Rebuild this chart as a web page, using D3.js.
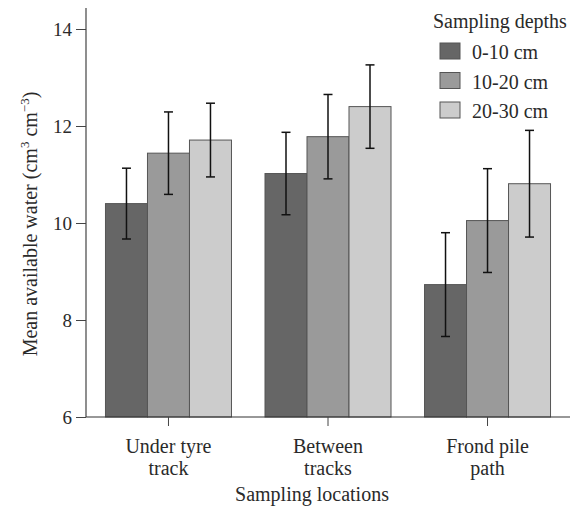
<!DOCTYPE html>
<html><head><meta charset="utf-8">
<script src="https://cdn.jsdelivr.net/npm/d3@7"></script>
<style>body{margin:0;background:#fff}text{font-family:"Liberation Serif","Times New Roman",serif;fill:#2a2a2a}</style>
</head><body>
<svg id="c" width="579" height="512"></svg>
<script>
const locations = [["Under tyre","track"],["Between","tracks"],["Frond pile","path"]];
const depths = ["0-10 cm","10-20 cm","20-30 cm"];
const means = [
  [10.40, 11.44, 11.71],
  [11.02, 11.78, 12.40],
  [8.73, 10.05, 10.81]
];
const errs = [
  [0.73, 0.85, 0.76],
  [0.85, 0.87, 0.86],
  [1.07, 1.07, 1.10]
];
const yTicks = [6, 8, 10, 12, 14];
const colors = ["#666666", "#9a9a9a", "#cccccc"];

const svg = d3.select("#c");
const x0 = 86, x1 = 570, yTop = 8, yBot = 417;
const y = d3.scaleLinear().domain([6, 14]).range([yBot, 29]);
const xc = d3.scalePoint().domain(d3.range(locations.length)).range([x0, x1]).padding(0.517);
const xs = d3.scaleBand().domain(d3.range(depths.length)).range([-63, 63]).padding(0);

const g = svg.append("g");
locations.forEach((loc, i) => {
  depths.forEach((d, j) => {
    const bx = xc(i) + xs(j);
    g.append("rect").attr("x", bx).attr("y", y(means[i][j]))
      .attr("width", xs.bandwidth()).attr("height", yBot - y(means[i][j]))
      .attr("fill", colors[j]).attr("stroke", "#555").attr("stroke-width", 1);
  });
});
locations.forEach((loc, i) => {
  depths.forEach((d, j) => {
    const cx = xc(i) + xs(j) + xs.bandwidth() / 2;
    const hi = y(means[i][j] + errs[i][j]), lo = y(means[i][j] - errs[i][j]);
    g.append("line").attr("x1", cx).attr("x2", cx).attr("y1", hi).attr("y2", lo).attr("stroke", "#111").attr("stroke-width", 1.5);
    [hi, lo].forEach(v => g.append("line").attr("x1", cx - 4.5).attr("x2", cx + 4.5).attr("y1", v).attr("y2", v).attr("stroke", "#111").attr("stroke-width", 1.5));
  });
});

const ya = svg.append("g").attr("transform", `translate(${x0},0)`)
  .call(d3.axisLeft(y).tickValues(yTicks).tickSize(10).tickPadding(4).tickSizeOuter(0));
ya.select(".domain").remove();
ya.append("line").attr("x1", 0).attr("x2", 0).attr("y1", yTop).attr("y2", yBot).attr("stroke", "#444").attr("stroke-width", 1.2);
ya.selectAll(".tick line").attr("stroke", "#444");
ya.selectAll(".tick text").attr("font-size", 19).attr("font-family", "Liberation Serif").attr("fill", "#2a2a2a");

const xa = svg.append("g").attr("transform", `translate(0,${yBot})`);
xa.append("line").attr("x1", x0).attr("x2", x1).attr("y1", 0).attr("y2", 0).attr("stroke", "#333").attr("stroke-width", 1.2);
locations.forEach((loc, i) => {
  xa.append("line").attr("x1", xc(i)).attr("x2", xc(i)).attr("y1", 0).attr("y2", 9).attr("stroke", "#444");
  const t = xa.append("text").attr("text-anchor", "middle").attr("font-size", 20);
  loc.forEach((l, k) => t.append("tspan").attr("x", xc(i)).attr("y", 36 + k * 22).text(l));
});
svg.append("text").attr("x", 312).attr("y", 501).attr("text-anchor", "middle").attr("font-size", 20).text("Sampling locations");

const yt = svg.append("text").attr("transform", `translate(37,224) rotate(-90)`).attr("text-anchor", "middle").attr("font-size", 20);
yt.append("tspan").text("Mean available water (cm");
yt.append("tspan").attr("font-size", 13).attr("dy", -8).text("3");
yt.append("tspan").attr("dy", 8).text(" cm");
yt.append("tspan").attr("font-size", 13).attr("dy", -8).text("−3");
yt.append("tspan").attr("dy", 8).text(")");

const lg = svg.append("g");
lg.append("text").attr("x", 433).attr("y", 28).attr("font-size", 20).text("Sampling depths");
depths.forEach((d, j) => {
  const yy = 43 + j * 29.5;
  lg.append("rect").attr("x", 440).attr("y", yy).attr("width", 20).attr("height", 16).attr("fill", colors[j]).attr("stroke", "#555");
  lg.append("text").attr("x", 472).attr("y", yy + 16).attr("font-size", 20).text(d);
});
</script>
</body></html>
